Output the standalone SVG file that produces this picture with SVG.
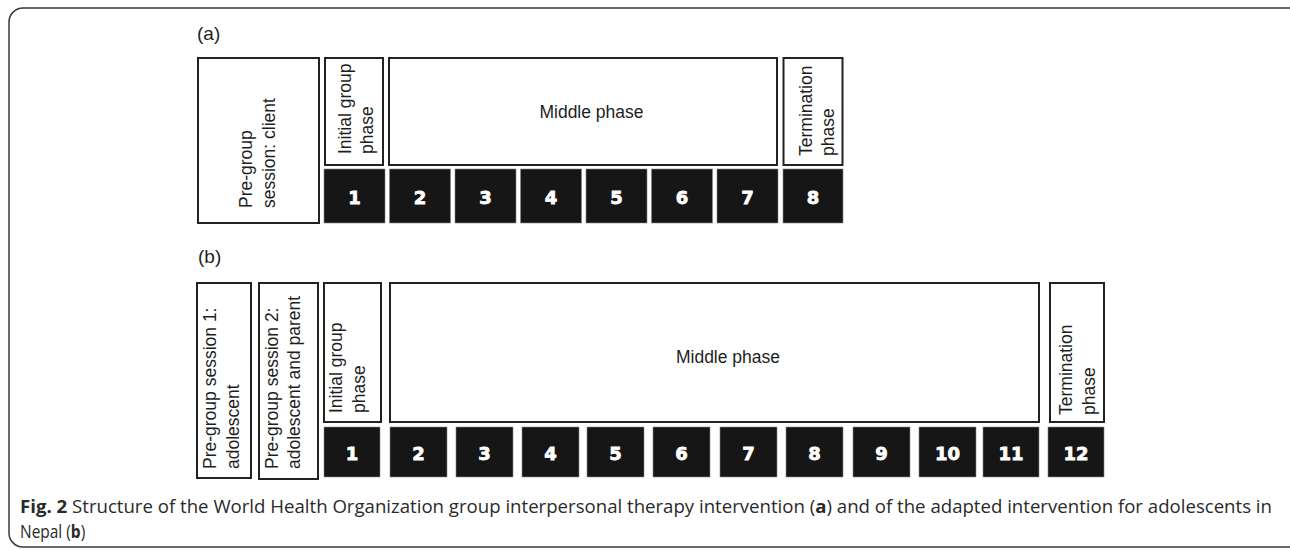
<svg xmlns="http://www.w3.org/2000/svg" width="1290" height="550" viewBox="0 0 1290 550">
<style>
.frame{fill:none;stroke:#3a3a3a;stroke-width:1.5}
.box{fill:#fff;stroke:#222;stroke-width:2}
.blk{fill:#161616;stroke:#888;stroke-width:0.6}
.t{font-family:"Liberation Sans",Arial,sans-serif;font-size:17.5px;fill:#1e1e1e}
.lbl{font-family:"Liberation Sans",Arial,sans-serif;font-size:19px;fill:#1e1e1e}
.num{font-family:"DejaVu Sans","Liberation Sans",sans-serif;font-weight:bold;font-size:18px;fill:#fff;stroke:#fff;stroke-width:0.8;text-anchor:middle}
.cap{font-family:"Open Sans","Liberation Sans",sans-serif;font-size:18px;fill:#2a2a2a}
.b{font-weight:bold}
</style>
<rect class="frame" x="9" y="8" width="1300" height="539" rx="14"/>

<g id="part-a">
  <text class="lbl" x="197" y="40">(a)</text>
  <g id="a-pregroup">
    <rect class="box" x="198" y="58" width="121" height="165"/>
    <text class="t" transform="translate(252,208) rotate(-90)">Pre-group</text>
    <text class="t" transform="translate(274.5,208) rotate(-90)">session: client</text>
  </g>
  <g id="a-initial">
    <rect class="box" x="325" y="58" width="58" height="107"/>
    <text class="t" transform="translate(350.5,154) rotate(-90)">Initial group</text>
    <text class="t" transform="translate(373,154) rotate(-90)">phase</text>
  </g>
  <g id="a-middle">
    <rect class="box" x="389" y="58" width="388" height="107"/>
    <text class="t" x="591.5" y="118" text-anchor="middle">Middle phase</text>
  </g>
  <g id="a-termination">
    <rect class="box" x="783.5" y="58" width="59" height="107"/>
    <text class="t" transform="translate(811.5,156) rotate(-90)">Termination</text>
    <text class="t" transform="translate(834,156) rotate(-90)">phase</text>
  </g>
  <g id="a-sessions">
    <g id="a-s1"><rect class="blk" x="324" y="169" width="61" height="54"/><text class="num" x="354.5" y="204">1</text></g>
    <g id="a-s2"><rect class="blk" x="389.5" y="169" width="61" height="54"/><text class="num" x="420" y="204">2</text></g>
    <g id="a-s3"><rect class="blk" x="455" y="169" width="61" height="54"/><text class="num" x="485.5" y="204">3</text></g>
    <g id="a-s4"><rect class="blk" x="520.5" y="169" width="61" height="54"/><text class="num" x="551" y="204">4</text></g>
    <g id="a-s5"><rect class="blk" x="586" y="169" width="61" height="54"/><text class="num" x="616.5" y="204">5</text></g>
    <g id="a-s6"><rect class="blk" x="651.5" y="169" width="61" height="54"/><text class="num" x="682" y="204">6</text></g>
    <g id="a-s7"><rect class="blk" x="717" y="169" width="61" height="54"/><text class="num" x="747.5" y="204">7</text></g>
    <g id="a-s8"><rect class="blk" x="783" y="169" width="60" height="54"/><text class="num" x="813" y="204">8</text></g>
  </g>
</g>

<g id="part-b">
  <text class="lbl" x="198" y="263">(b)</text>
  <g id="b-pregroup1">
    <rect class="box" x="197" y="283" width="54" height="195"/>
    <text class="t" transform="translate(216,469) rotate(-90)">Pre-group session 1:</text>
    <text class="t" transform="translate(239,469) rotate(-90)">adolescent</text>
  </g>
  <g id="b-pregroup2">
    <rect class="box" x="259" y="283" width="59" height="196"/>
    <text class="t" transform="translate(277.5,469) rotate(-90)">Pre-group session 2:</text>
    <text class="t" transform="translate(300,469) rotate(-90)">adolescent and parent</text>
  </g>
  <g id="b-initial">
    <rect class="box" x="324" y="283" width="57" height="139"/>
    <text class="t" transform="translate(342,413) rotate(-90)">Initial group</text>
    <text class="t" transform="translate(365,413) rotate(-90)">phase</text>
  </g>
  <g id="b-middle">
    <rect class="box" x="390" y="283" width="649" height="139"/>
    <text class="t" x="728" y="363" text-anchor="middle">Middle phase</text>
  </g>
  <g id="b-termination">
    <rect class="box" x="1050" y="283" width="54" height="139"/>
    <text class="t" transform="translate(1072,415) rotate(-90)">Termination</text>
    <text class="t" transform="translate(1095,415) rotate(-90)">phase</text>
  </g>
  <g id="b-sessions">
    <g id="b-s1"><rect class="blk" x="324" y="427" width="56" height="50"/><text class="num" x="352" y="460">1</text></g>
    <g id="b-s2"><rect class="blk" x="390" y="427" width="57" height="50"/><text class="num" x="418.5" y="460">2</text></g>
    <g id="b-s3"><rect class="blk" x="456" y="427" width="57" height="50"/><text class="num" x="484.5" y="460">3</text></g>
    <g id="b-s4"><rect class="blk" x="522" y="427" width="57" height="50"/><text class="num" x="550.5" y="460">4</text></g>
    <g id="b-s5"><rect class="blk" x="587" y="427" width="57" height="50"/><text class="num" x="615.5" y="460">5</text></g>
    <g id="b-s6"><rect class="blk" x="653" y="427" width="57" height="50"/><text class="num" x="681.5" y="460">6</text></g>
    <g id="b-s7"><rect class="blk" x="720" y="427" width="57" height="50"/><text class="num" x="748.5" y="460">7</text></g>
    <g id="b-s8"><rect class="blk" x="786" y="427" width="57" height="50"/><text class="num" x="814.5" y="460">8</text></g>
    <g id="b-s9"><rect class="blk" x="853" y="427" width="57" height="50"/><text class="num" x="881.5" y="460">9</text></g>
    <g id="b-s10"><rect class="blk" x="919" y="427" width="57" height="50"/><text class="num" x="947.5" y="460">10</text></g>
    <g id="b-s11"><rect class="blk" x="983" y="427" width="56" height="50"/><text class="num" x="1011" y="460">11</text></g>
    <g id="b-s12"><rect class="blk" x="1048" y="427" width="56" height="50"/><text class="num" x="1076" y="460">12</text></g>
  </g>
</g>

<g id="connectors"></g>

<g id="caption">
  <text class="cap" x="20" y="513" textLength="1252" lengthAdjust="spacingAndGlyphs"><tspan class="b">Fig. 2</tspan> Structure of the World Health Organization group interpersonal therapy intervention (<tspan class="b">a</tspan>) and of the adapted intervention for adolescents in</text>
  <text class="cap" transform="translate(20,538) scale(0.86,1)" x="0" y="0">Nepal (<tspan class="b">b</tspan>)</text>
</g>
</svg>
